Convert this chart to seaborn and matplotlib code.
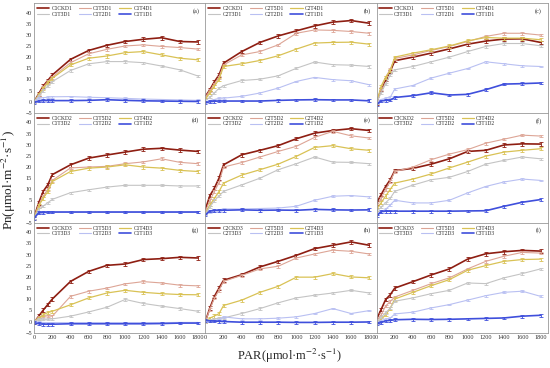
import pandas as pd
import matplotlib.pyplot as plt
import seaborn as sns

sns.set_style("white")
plt.rcParams['font.family'] = ['Liberation Serif', 'DejaVu Serif']
plt.rcParams['mathtext.fontset'] = 'stix'

PAR = [0, 50, 100, 150, 200, 400, 600, 800, 1000, 1200, 1400, 1600, 1800]
TREATMENTS = ['CK', 'T5', 'T4', 'T3', 'T2', 'T1']
COLORS = {'CK': '#8E1E12', 'T5': '#DDA596', 'T4': '#D9C255', 'T3': '#C4C4C4',
          'T2': '#B9C0F2', 'T1': '#3F4FDC'}
WIDTHS = {'CK': 1.2, 'T5': 0.8, 'T4': 0.9, 'T3': 0.8, 'T2': 0.8, 'T1': 1.2}
ERR = {'CK': 0.8, 'T5': 0.6, 'T4': 0.7, 'T3': 0.5, 'T2': 0.4, 'T1': 0.6}

# rows = drought level D1..D3, columns = cultivar C1..C3
PANEL_A = {
    'CK': [0, 3.5, 7, 9.5, 12, 19, 23, 25.3, 27, 28, 28.7, 27, 26.8],
    'T5': [0, 3, 6.5, 9, 11, 17.5, 21.5, 23.5, 25, 25.5, 24.8, 24.3, 23.6],
    'T4': [0, 3, 6, 8.5, 10.5, 16.5, 19.5, 20.5, 22, 22.5, 21, 19.5, 18.8],
    'T3': [0, 2.5, 5, 7, 9, 14, 17, 18, 18, 17.5, 16, 14.3, 11.5],
    'T2': [0, 1.5, 1.8, 2, 2.2, 2.3, 2, 1.8, 1.5, 1.2, 1, 0.8, 0.6],
    'T1': [-0.5, 0.3, 0.5, 0.5, 0.5, 0.5, 0.6, 0.9, 0.6, 0.4, 0.3, 0.2, 0.1],
}
PANEL_B = {
    'CK': [2.4, 5.4, 9, 12, 17.3, 22.5, 26.6, 29.5, 31.8, 34, 35.7, 36.4, 35.2],
    'T5': [2, 5, 8, 11, 16.5, 21, 22.5, 25.5, 30.7, 32.2, 32, 31.5, 30.7],
    'T4': [1, 4, 7, 10, 15.8, 17, 18.5, 20.6, 23.6, 26.3, 26.6, 26.7, 25.8],
    'T3': [0.5, 2, 4, 6, 7.2, 9.5, 10.1, 11.6, 15, 17.8, 16.6, 16.4, 15.8],
    'T2': [0, 0.5, 1, 1.5, 1.6, 2.4, 3.9, 6.1, 9.1, 10.9, 9.9, 9.4, 7.6],
    'T1': [-0.5, 0, 0.2, 0.3, 0.3, 0.3, 0.3, 0.6, 0.8, 0.9, 0.8, 0.8, 0.4],
}
PANEL_C = {
    'CK': [-0.6, 5.4, 9.9, 13.6, 18.4, 20, 21.8, 23.7, 25.8, 27.2, 28.1, 28.2, 26.6],
    'T5': [-0.5, 6, 11, 14.5, 19.4, 21, 23, 24.8, 27, 29.3, 30.7, 30.7, 29.9],
    'T4': [-0.5, 7, 11, 14, 20, 21.8, 23.3, 25, 27.3, 28.8, 28.5, 28.5, 27.8],
    'T3': [-0.5, 4, 8, 12, 14.3, 15.8, 17.9, 20, 22.5, 24.8, 26.1, 26.1, 25.1],
    'T2': [-0.5, 1, 1.5, 2, 5.7, 7.3, 10.6, 12.8, 14.9, 17.9, 17, 16.1, 15.8],
    'T1': [-1.2, 0.3, 0.6, 0.7, 1.9, 2.7, 4, 3, 3.3, 5.4, 7.9, 8.1, 8.4],
}
PANEL_D = {
    'CK': [-2.5, 3.9, 9.1, 12, 16.6, 21, 24, 25.4, 26.7, 28, 28.4, 27.6, 27],
    'T5': [-2.5, 3, 7, 10, 14, 19.6, 20, 20.3, 21.5, 22.3, 23.7, 22.1, 21.5],
    'T4': [-3, 2.5, 6, 9, 13.5, 18, 19.5, 20, 21, 20, 19.5, 18.5, 18],
    'T3': [-3, 1, 2.5, 4, 5.5, 8.5, 9.8, 11, 11.8, 11.8, 11.8, 11.5, 11.5],
    'T2': [-3, -0.3, -0.2, -0.1, 0, 0, 0, 0, 0, 0, 0, 0, 0],
    'T1': [-3, -0.5, -0.3, -0.2, -0.2, -0.2, -0.2, -0.2, -0.2, -0.2, -0.2, -0.2, -0.2],
}
PANEL_E = {
    'CK': [1, 7.2, 10.6, 15, 21, 25.5, 27.5, 29.6, 32.7, 35.2, 36.4, 37.2, 36.4],
    'T5': [0, 5, 9, 13, 20, 22, 24.5, 27, 29.3, 33.3, 36, 34, 33],
    'T4': [-1, 3, 6, 9, 12.8, 16.4, 18.8, 21.3, 24.8, 28.8, 29.6, 28.2, 27.5],
    'T3': [-1, 2, 5, 7, 9.1, 12, 15, 18.8, 21.5, 24.5, 22.2, 22.1, 21.5],
    'T2': [-1, 0, 0.2, 0.8, 1.2, 1.2, 1.4, 1.6, 2.4, 5.1, 6.9, 7.2, 6.6],
    'T1': [-1.5, 0.3, 0.5, 0.6, 0.6, 0.8, 0.6, 0.7, 0.6, 1.0, 0.8, 0.7, 0.8],
}
PANEL_F = {
    'CK': [3.9, 7.6, 11.3, 14.3, 18.4, 19.4, 21.3, 23.7, 27, 27.5, 29.9, 30.4, 30.3],
    'T5': [2, 6, 10, 13.5, 18, 20, 23.3, 25.8, 27.8, 30.7, 32.5, 34.3, 33.9],
    'T4': [1, 4, 7, 10, 12.8, 14.6, 16.9, 19.6, 22.2, 24.9, 26.7, 27.5, 28.2],
    'T3': [0, 2, 4, 6, 9.1, 11.9, 14.3, 15.4, 18, 21.3, 23, 24.5, 23.7],
    'T2': [-1, 0, 1, 3, 5.1, 3.9, 3.9, 5.1, 8.4, 11.3, 13.3, 14.6, 14],
    'T1': [-2, 0, 0.2, 0.2, 0.2, 0.2, 0.2, 0.2, 0.3, 0.4, 2.4, 4.2, 5.4],
}
PANEL_G = {
    'CK': [-0.5, 2.4, 5.1, 7.6, 10.1, 18, 22.5, 25.2, 25.8, 27.8, 28.2, 28.8, 28.5],
    'T5': [0, 2, 2.5, 2.5, 2.4, 11.3, 13.6, 15, 16.9, 17.9, 17.3, 16.3, 16],
    'T4': [0, 1.5, 3, 4, 4.6, 7.5, 10.6, 12.8, 14, 13.1, 12.5, 12.1, 12],
    'T3': [0, 1, 1, 1, 1.2, 2.4, 4.3, 6.4, 9.9, 8.1, 6.9, 5.8, 4.6],
    'T2': [0, -0.3, -0.4, -0.5, -0.5, -0.5, -0.5, -0.5, -0.5, -0.5, -0.5, -0.4, -0.4],
    'T1': [-0.5, -1, -1.2, -1.2, -1.2, -1, -1, -1, -1, -1, -0.9, -0.7, -0.7],
}
PANEL_H = {
    'CK': [0, 6.1, 11.3, 15, 18.5, 21, 24.5, 27, 29.7, 32.7, 34.2, 35.7, 34.2],
    'T5': [0, 5.5, 10.5, 14, 18, 20.7, 23.6, 24.8, 28.5, 30.3, 32, 31.5, 30.3],
    'T4': [0, 1.5, 2.5, 3.5, 7.2, 9.6, 13.1, 15.8, 19.9, 19.9, 21.5, 20, 19.6],
    'T3': [0, 0.5, 1, 1.5, 1.6, 3.6, 5.8, 8.4, 10.6, 11.8, 12.8, 14, 12.8],
    'T2': [0, 0.5, 0.5, 0.8, 2.1, 1.2, 1.2, 1.5, 2.1, 3.6, 5.8, 3.6, 4.9],
    'T1': [0.5, 0.3, 0.2, 0.1, 0, -0.3, -0.3, -0.3, -0.4, -0.4, -0.3, -0.3, -0.2],
}
PANEL_I = {
    'CK': [1, 5.4, 9.9, 12, 15, 17.9, 20.9, 23.6, 28, 30.4, 31.3, 31.9, 31.6],
    'T5': [0, 3, 7, 9, 11, 14, 17, 19.6, 23.6, 27, 29.3, 31, 30.7],
    'T4': [-0.5, 1, 3, 6, 10.1, 13.1, 16.1, 18.8, 23, 25.1, 27, 27.8, 28],
    'T3': [-0.5, 2, 4, 6, 9.1, 10.6, 12.5, 14, 17.3, 17, 19.6, 21.5, 23.6],
    'T2': [-0.5, 0.5, 1, 1.5, 3.4, 4.2, 6.1, 7.6, 9.6, 11.6, 13.1, 13.6, 11.3],
    'T1': [-1, -0.5, 0.3, 0.5, 0.8, 1, 0.9, 1, 1.2, 1.4, 1.6, 2.4, 2.8],
}

PANELS = [[PANEL_A, PANEL_B, PANEL_C], [PANEL_D, PANEL_E, PANEL_F], [PANEL_G, PANEL_H, PANEL_I]]
LETTERS = ['(a)', '(b)', '(c)', '(d)', '(e)', '(f)', '(g)', '(h)', '(i)']

fig, axes = plt.subplots(3, 3, figsize=(5.5, 3.68), dpi=100, sharex=True, sharey=True)
fig.subplots_adjust(left=0.062, right=0.996, top=0.992, bottom=0.096, wspace=0, hspace=0)

for r in range(3):
    for c in range(3):
        ax = axes[r, c]
        panel = PANELS[r][c]
        rows = []
        for t in TREATMENTS:
            for x, y in zip(PAR, panel[t]):
                rows.append({'PAR': x, 'Pn': y, 'Treatment': t})
        df = pd.DataFrame(rows)
        for t in TREATMENTS:
            sub = df[df['Treatment'] == t]
            sns.lineplot(data=sub, x='PAR', y='Pn', color=COLORS[t], lw=WIDTHS[t],
                         ax=ax, label=f'C{c + 1}{t}D{r + 1}', legend=False)
            ax.errorbar(sub['PAR'], sub['Pn'], yerr=ERR[t], fmt='none', ecolor=COLORS[t],
                        elinewidth=0.6, capsize=1.3, capthick=0.6)
        lines = [l for l in ax.get_lines() if not l.get_label().startswith('_')]
        order = [0, 3, 1, 4, 2, 5]  # so the legend reads row by row
        ax.legend([lines[i] for i in order], [lines[i].get_label() for i in order],
                  ncol=3, loc='upper left', frameon=False, fontsize=4,
                  handlelength=2.2, columnspacing=1.2, labelspacing=0.15,
                  handletextpad=0.4, borderaxespad=0.3, borderpad=0.2)
        ax.text(0.965, 0.93, LETTERS[r * 3 + c], transform=ax.transAxes,
                ha='right', va='center', fontsize=4.5)
        ax.set_xlim(0, 1880)
        ax.set_ylim(-5, 44.3)
        ax.set_xticks(range(0, 1801, 200))
        ax.set_yticks(range(-5, 41, 5))
        ax.tick_params(direction='in', length=1.5, width=0.5, labelsize=4.5, pad=1.5,
                       colors='#333333')
        for s in ax.spines.values():
            s.set_color('#999999')
            s.set_linewidth(0.6)
        ax.set_xlabel('')
        ax.set_ylabel('')

fig.text(0.527, 0.033, 'PAR(μmol·m$^{-2}$·s$^{-1}$)', ha='center', va='center', fontsize=9)
fig.text(0.016, 0.51, 'Pn(μmol·m$^{-2}$·s$^{-1}$)', ha='center', va='center',
         rotation=90, fontsize=9.5)

plt.savefig('out.png', dpi=100)
